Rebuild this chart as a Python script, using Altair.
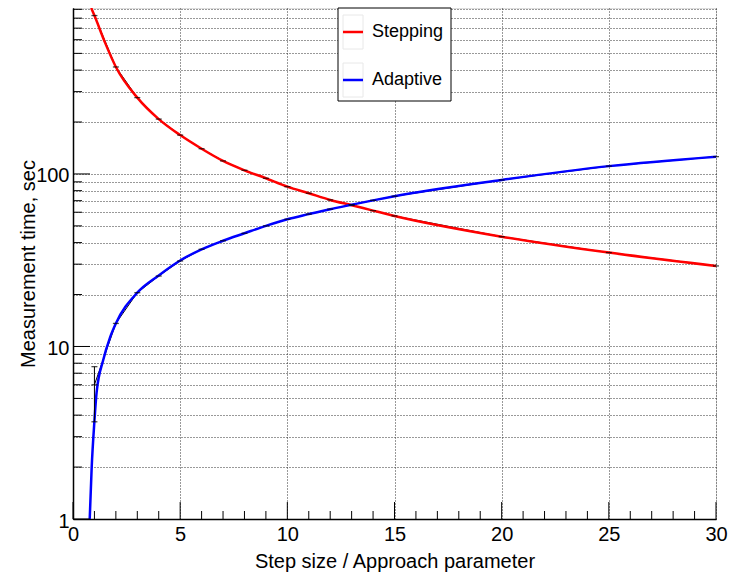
import altair as alt
import pandas as pd

# Fitted curves (sampled along the drawn functions)
step_curve_x = [0.85, 1, 1.5, 2, 3, 4, 5, 6, 7, 8, 9, 10, 11, 12, 13, 14, 15, 20, 25, 30]
step_curve_y = [916, 828, 575, 417, 277, 208, 168, 140, 119, 105, 94.4, 84.4, 77.3,
                70.7, 65.9, 61.3, 57.1, 43.3, 35.0, 29.3]

adapt_curve_x = [0.78, 0.87, 1.0, 1.1, 1.41, 1.73, 2, 3, 4, 5, 6, 7, 8, 9, 10, 11, 12, 13,
                 14, 15, 20, 25, 30]
adapt_curve_y = [1.0, 1.97, 3.7, 5.4, 8.35, 11.3, 13.6, 20.5, 25.8, 31.5, 36.6, 41.0, 45.3,
                 50.0, 54.6, 58.5, 62.5, 66.3, 70.3, 74.3, 92.3, 111, 126]

# Measured points
meas_x = [1, 2, 3, 4, 5, 6, 7, 8, 9, 10, 11, 12, 13, 14, 15, 20, 25, 30]
step_meas = [828, 417, 277, 208, 168, 140, 119, 105, 94.4, 84.4, 77.3, 70.7, 65.9, 61.3,
             57.1, 43.3, 35.0, 29.3]
adapt_meas = [6.0, 13.6, 20.5, 25.6, 31.3, 36.6, 41.0, 45.3, 50.0, 54.6, 58.5, 62.5, 66.3,
              70.3, 74.3, 92.3, 111, 126]

# Visible error bar
err_x = [1]
err_lo = [3.66]
err_hi = [7.64]

series_names = ["Stepping", "Adaptive"]
series_colors = ["#ff0000", "#0000ff"]

# Axis tick positions
x_major = [0, 5, 10, 15, 20, 25, 30]
x_minor = [v for v in range(0, 31) if v % 5 != 0]
y_major = [1, 10, 100]
y_minor = [m * d for d in (1, 10, 100) for m in range(2, 10)]
y_grid = sorted(y_major + y_minor)

W, H = 643, 511
FONT = "Liberation Sans"

xscale = alt.Scale(domain=[0, 30], nice=False, zero=False)
yscale = alt.Scale(type="log", domain=[1, 916], nice=False)
cscale = alt.Scale(domain=series_names, range=series_colors)

curves = pd.concat([
    pd.DataFrame({"x": step_curve_x, "y": step_curve_y, "series": series_names[0]}),
    pd.DataFrame({"x": adapt_curve_x, "y": adapt_curve_y, "series": series_names[1]}),
])
meas = pd.concat([
    pd.DataFrame({"x": meas_x, "y": step_meas, "series": series_names[0]}),
    pd.DataFrame({"x": meas_x, "y": adapt_meas, "series": series_names[1]}),
])
errs = pd.DataFrame({"x": err_x, "lo": err_lo, "hi": err_hi})

x_axis = alt.Axis(
    values=x_major, grid=True, gridDash=[1, 2], gridColor="#333", gridWidth=1,
    ticks=False, domainColor="black", domainWidth=1.5, labelFont=FONT, labelFontSize=20,
    labelColor="black", labelPadding=5, labelFlush=False, labelOverlap=False,
    title="Step size / Approach parameter", titleFont=FONT, titleFontSize=20,
    titleFontWeight="normal", titleColor="black", titleBaseline="alphabetic", titleY=48,
)
y_axis = alt.Axis(
    values=y_grid, grid=True, gridDash=[1, 2], gridColor="#333", gridWidth=1,
    ticks=False, domainColor="black", domainWidth=1.5, labelFont=FONT, labelFontSize=20,
    labelColor="black", labelPadding=4, labelOverlap=False, labelOffset=2,
    labelExpr="(datum.value == 1 || datum.value == 10 || datum.value == 100) ? format(datum.value, 'd') : ''",
    title="Measurement time, sec", titleFont=FONT, titleFontSize=20,
    titleFontWeight="normal", titleColor="black", titleBaseline="alphabetic", titleX=-39,
)


def X(field):
    return alt.X(field, type="quantitative", scale=xscale, axis=x_axis)


def Y(field):
    return alt.Y(field, type="quantitative", scale=yscale, axis=y_axis)


# Black polyline through the measured points (lies under the fitted curves)
data_line = alt.Chart(meas).mark_line(color="black", strokeWidth=1, clip=True).encode(
    x=X("x"), y=Y("y"), detail="series:N",
)

fit_lines = alt.Chart(curves).mark_line(strokeWidth=2.5, interpolate="monotone", clip=True).encode(
    x=X("x"), y=Y("y"),
    color=alt.Color("series:N", scale=cscale, legend=None),
    order=alt.Order("x:Q"),
)

markers = alt.Chart(meas).mark_tick(orient="horizontal", size=6, thickness=1.3, color="black").encode(
    x=X("x"), y=Y("y"),
)

err_bar = alt.Chart(errs).mark_rule(color="black", strokeWidth=1).encode(
    x=X("x"), y=Y("lo"), y2="hi:Q",
)
err_cap_lo = alt.Chart(errs).mark_tick(orient="horizontal", size=6, thickness=1.3, color="black").encode(
    x=X("x"), y=Y("lo"),
)
err_cap_hi = alt.Chart(errs).mark_tick(orient="horizontal", size=6, thickness=1.3, color="black").encode(
    x=X("x"), y=Y("hi"),
)

# Inward-pointing axis ticks
ytick_major = alt.Chart(pd.DataFrame({"v": y_major})).mark_rule(color="black", strokeWidth=1).encode(
    y=Y("v"), x=alt.value(0), x2=alt.value(17))
ytick_minor = alt.Chart(pd.DataFrame({"v": y_minor})).mark_rule(color="black", strokeWidth=1).encode(
    y=Y("v"), x=alt.value(0), x2=alt.value(9))
xtick_major = alt.Chart(pd.DataFrame({"v": x_major})).mark_rule(color="black", strokeWidth=1).encode(
    x=X("v"), y=alt.value(H), y2=alt.value(H - 17))
xtick_minor = alt.Chart(pd.DataFrame({"v": x_minor})).mark_rule(color="black", strokeWidth=1).encode(
    x=X("v"), y=alt.value(H), y2=alt.value(H - 8))

# Legend box
one = alt.Data(values=[{}])
legend_layers = [
    alt.Chart(one).mark_rect(fill="white", stroke="black", strokeWidth=1).encode(
        x=alt.value(265), x2=alt.value(378), y=alt.value(0), y2=alt.value(93))
]
for i, (name, col) in enumerate(zip(series_names, series_colors)):
    yc = 24 + 48 * i
    legend_layers += [
        alt.Chart(one).mark_rect(fill="white", stroke="#e8e8e8", strokeWidth=1).encode(
            x=alt.value(270), x2=alt.value(290), y=alt.value(yc - 17), y2=alt.value(yc + 17)),
        alt.Chart(one).mark_rule(color=col, strokeWidth=2.5).encode(
            x=alt.value(270), x2=alt.value(290), y=alt.value(yc)),
        alt.Chart(one).mark_text(text=name, font=FONT, fontSize=18, color="black",
                                 align="left", baseline="middle").encode(
            x=alt.value(299), y=alt.value(yc)),
    ]

chart = alt.layer(
    data_line, fit_lines, err_bar, err_cap_lo, err_cap_hi, markers,
    ytick_major, ytick_minor, xtick_major, xtick_minor, *legend_layers,
).properties(
    width=W, height=H,
    padding={"left": 73, "top": 8, "right": 18, "bottom": 55},
    autosize=alt.AutoSizeParams(type="none"),
).configure_view(
    stroke="black", strokeWidth=1,
).configure(background="white")

chart.save("out.html", embed_options={"renderer": "svg", "actions": False})
